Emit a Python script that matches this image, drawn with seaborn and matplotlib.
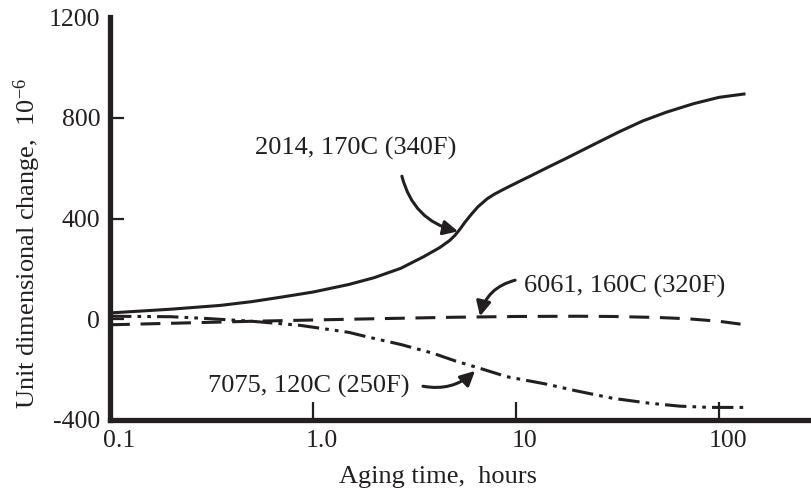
import numpy as np
import pandas as pd
import matplotlib
matplotlib.use("Agg")
import matplotlib.pyplot as plt
from matplotlib.ticker import NullLocator, FixedLocator, FixedFormatter
from matplotlib.transforms import ScaledTranslation
import seaborn as sns

# Dimensional change during artificial aging of aluminium alloys
hours_2014 = [0.1, 0.2, 0.35, 0.5, 0.7, 1.0, 1.5, 2.0, 2.7, 3.5, 4.2, 4.7, 5.0,
              5.3, 5.6, 6.0, 6.5, 7.2, 7.8, 8.5, 9.3, 10.5, 12, 14, 18, 25,
              32, 42, 55, 75, 100, 135]
change_2014 = [25, 40, 55, 70, 88, 108, 138, 165, 202, 248, 284, 312, 333,
               358, 385, 415, 447, 478, 496, 512, 528, 549, 572, 599, 642,
               700, 743, 787, 822, 856, 881, 895]

hours_6061 = [0.1, 0.2, 0.5, 1.0, 2.0, 5.0, 10, 20, 30, 50, 70, 100, 135]
change_6061 = [-22, -16, -8, -3, 2, 8, 11, 12, 11, 7, 2, -8, -22]

hours_7075 = [0.1, 0.2, 0.3, 0.5, 0.86, 1.5, 1.85, 2.7, 3.9, 5.0, 6.65, 9,
              14.2, 20, 30, 45, 64, 90, 137]
change_7075 = [12, 10, 3, -8, -24, -52, -70, -100, -135, -165, -195, -228,
               -258, -285, -314, -333, -345, -350, -350]

x_ticks = [0.1, 1.0, 10, 100]
x_tick_labels = ["0.1", "1.0", "10", "100"]
y_ticks = [-400, 0, 400, 800, 1200]
y_tick_labels = ["-400", "0", "400", "800", "1200"]

labels = ["2014, 170C (340F)", "6061, 160C (320F)", "7075, 120C (250F)"]

ink = "#231f20"

sns.set_style("white")
plt.rcParams["font.family"] = ["Liberation Serif", "DejaVu Serif"]
plt.rcParams["mathtext.fontset"] = "custom"
plt.rcParams["mathtext.rm"] = "Liberation Serif"
plt.rcParams["mathtext.it"] = "Liberation Serif:italic"

fig = plt.figure(figsize=(8.12, 4.88), dpi=100)
ax = fig.add_axes([110 / 812, 68 / 488, 702 / 812, 403 / 488])

df_2014 = pd.DataFrame({"hours": hours_2014, "change": change_2014})
df_6061 = pd.DataFrame({"hours": hours_6061, "change": change_6061})
df_7075 = pd.DataFrame({"hours": hours_7075, "change": change_7075})

sns.lineplot(data=df_2014, x="hours", y="change", ax=ax, color=ink, lw=2.2,
             estimator=None, sort=False)
sns.lineplot(data=df_6061, x="hours", y="change", ax=ax, color=ink, lw=2.2,
             estimator=None, sort=False)
sns.lineplot(data=df_7075, x="hours", y="change", ax=ax, color=ink, lw=2.2,
             estimator=None, sort=False)
lines = ax.get_lines()
lines[0].set_linestyle("-")
lines[1].set_linestyle((0, (6.5, 3.5)))
lines[2].set_linestyle((0, (7, 2, 1.2, 2, 1.2, 2)))
for ln in lines:
    ln.set_solid_capstyle("butt")
    ln.set_dash_capstyle("butt")
    ln.set_solid_joinstyle("round")

ax.set_xscale("log")
ax.set_xlim(0.1, 287)
ax.set_ylim(-400, 1200)

ax.xaxis.set_major_locator(FixedLocator(x_ticks))
ax.xaxis.set_major_formatter(FixedFormatter(x_tick_labels))
ax.xaxis.set_minor_locator(NullLocator())
ax.yaxis.set_major_locator(FixedLocator(y_ticks))
ax.yaxis.set_major_formatter(FixedFormatter(y_tick_labels))
ax.yaxis.set_minor_locator(NullLocator())

ax.tick_params(axis="x", bottom=True, direction="in", length=13, width=1.6,
               color=ink, labelsize=18.5, labelcolor=ink, pad=7)
ax.tick_params(axis="y", left=True, direction="in", length=10, width=1.6,
               color=ink, labelsize=18.5, labelcolor=ink, pad=7)

# the end ticks lie on the spines, only their labels are shown
ax.yaxis.get_major_ticks()[0].tick1line.set_visible(False)
ax.yaxis.get_major_ticks()[-1].tick1line.set_visible(False)
ax.xaxis.get_major_ticks()[0].tick1line.set_visible(False)

# x tick labels sit a little right of their ticks
shift = ScaledTranslation(9 / 100, 0, fig.dpi_scale_trans)
for lbl in ax.get_xticklabels():
    lbl.set_transform(lbl.get_transform() + shift)

for side in ["top", "right"]:
    ax.spines[side].set_visible(False)
for side in ["left", "bottom"]:
    ax.spines[side].set_linewidth(3.8)
    ax.spines[side].set_color(ink)
ax.grid(False)

ax.set_xlabel("Aging time,  hours", fontsize=19, color=ink)
ax.xaxis.set_label_coords((438 - 110) / 702, -63 / 403)
ax.xaxis.label.set_va("baseline")
ax.set_ylabel("Unit dimensional change,  10$^{-6}$", fontsize=19, color=ink)
ax.yaxis.set_label_coords((27 - 110) / 702, (420 - 243) / 403)
ax.yaxis.label.set_va("center")

arrow = dict(arrowstyle="-|>", color=ink, lw=2.2, mutation_scale=22,
             shrinkA=0, shrinkB=0)

ax.annotate(labels[0], xy=(5.18, 349), xytext=(1.63, 679), fontsize=19,
            color=ink, ha="center", va="center", zorder=5)
ax.annotate("", xy=(5.18, 349), xytext=(2.74, 568),
            arrowprops=dict(connectionstyle="arc3,rad=0.3", **arrow))

ax.annotate(labels[1], xy=(6.65, 12), xytext=(34.4, 131), fontsize=19,
            color=ink, ha="center", va="center", zorder=5)
ax.annotate("", xy=(6.65, 12), xytext=(9.9, 155),
            arrowprops=dict(connectionstyle="arc3,rad=0.3", **arrow))

ax.annotate(labels[2], xy=(6.28, -205), xytext=(0.955, -266), fontsize=19,
            color=ink, ha="center", va="center", zorder=5)
ax.annotate("", xy=(6.28, -205), xytext=(3.48, -266),
            arrowprops=dict(connectionstyle="arc3,rad=0.25", **arrow))

fig.savefig("out.png", dpi=100)
